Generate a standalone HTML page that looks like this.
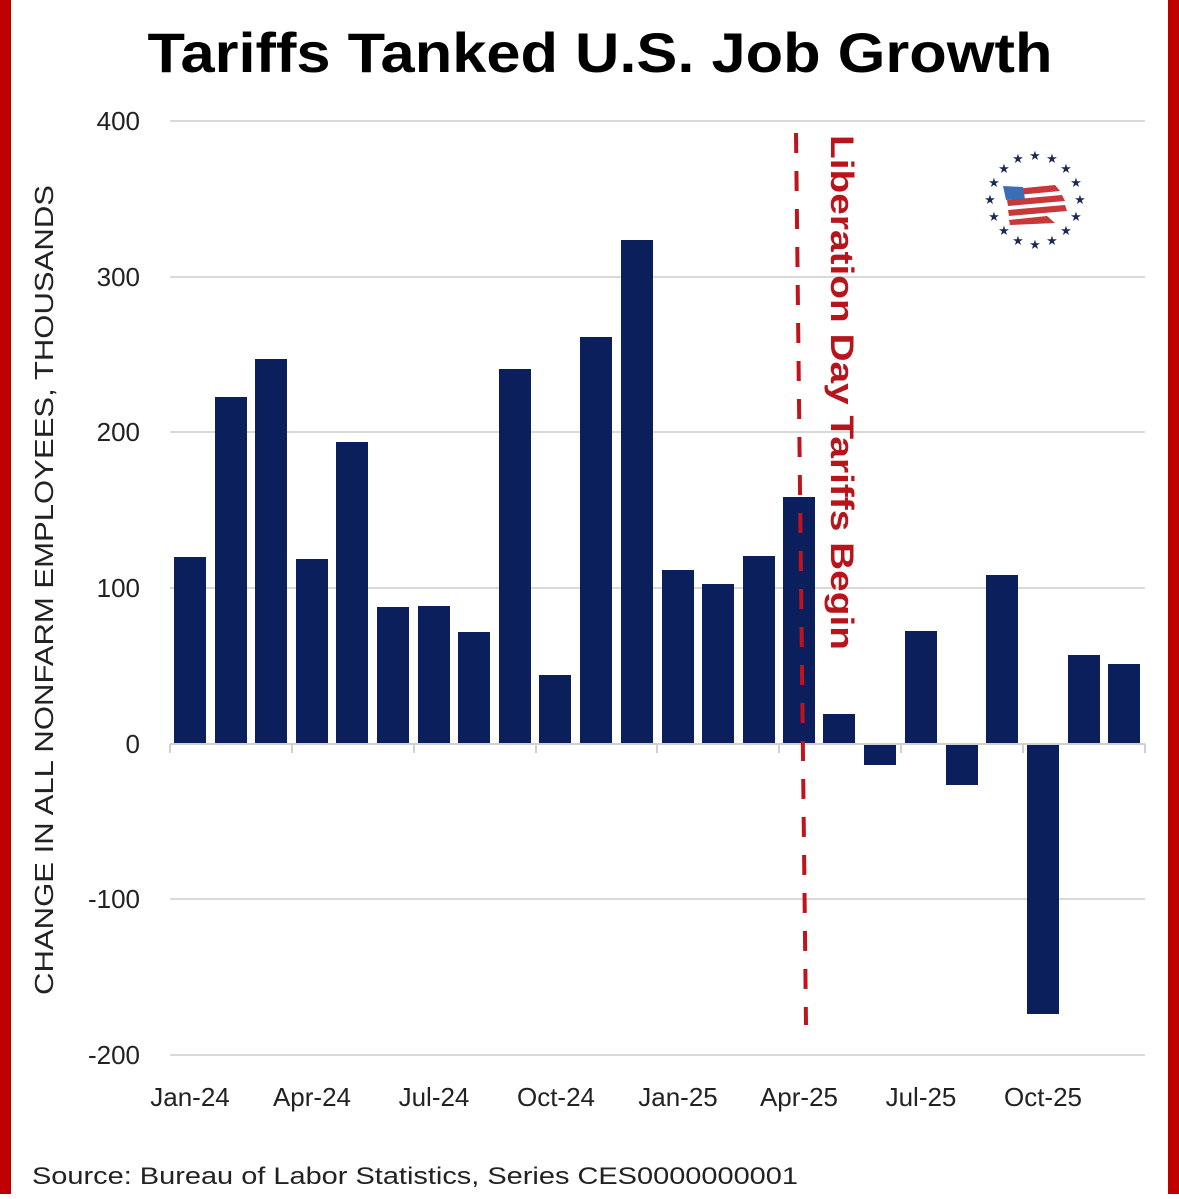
<!DOCTYPE html>
<html><head><meta charset="utf-8"><style>
html,body{margin:0;padding:0;background:#fff;}
</style></head><body>
<svg width="1179" height="1194" viewBox="0 0 1179 1194" xmlns="http://www.w3.org/2000/svg" font-family="Liberation Sans, sans-serif">
<rect x="0" y="0" width="1179" height="1194" fill="#fff"/>
<rect x="0" y="0" width="11" height="1194" fill="#c00000"/>
<rect x="1168" y="0" width="11" height="1194" fill="#c00000"/>
<text x="600" y="72" text-anchor="middle" font-size="56" font-weight="bold" fill="#000" textLength="905" lengthAdjust="spacingAndGlyphs">Tariffs Tanked U.S. Job Growth</text>
<g stroke="#d9d9d9" stroke-width="2">
<line x1="170" y1="121" x2="1145" y2="121"/>
<line x1="170" y1="277" x2="1145" y2="277"/>
<line x1="170" y1="432" x2="1145" y2="432"/>
<line x1="170" y1="588" x2="1145" y2="588"/>
<line x1="170" y1="899" x2="1145" y2="899"/>
<line x1="170" y1="1055" x2="1145" y2="1055"/>
</g>
<g font-size="26" fill="#222" text-anchor="end">
<text x="140" y="130">400</text>
<text x="140" y="286">300</text>
<text x="140" y="441">200</text>
<text x="140" y="597">100</text>
<text x="140" y="753">0</text>
<text x="140" y="908">-100</text>
<text x="140" y="1064">-200</text>
</g>
<text transform="translate(53,590) rotate(-90)" text-anchor="middle" font-size="26" fill="#222" textLength="810" lengthAdjust="spacingAndGlyphs">CHANGE IN ALL NONFARM EMPLOYEES, THOUSANDS</text>
<g fill="#0a1f5c">
<rect x="174" y="557" width="32" height="187"/>
<rect x="215" y="397" width="32" height="347"/>
<rect x="255" y="359" width="32" height="385"/>
<rect x="296" y="559" width="32" height="185"/>
<rect x="336" y="442" width="32" height="302"/>
<rect x="377" y="607" width="32" height="137"/>
<rect x="418" y="606" width="32" height="138"/>
<rect x="458" y="632" width="32" height="112"/>
<rect x="499" y="369" width="32" height="375"/>
<rect x="539" y="675" width="32" height="69"/>
<rect x="580" y="337" width="32" height="407"/>
<rect x="621" y="240" width="32" height="504"/>
<rect x="662" y="570" width="32" height="174"/>
<rect x="702" y="584" width="32" height="160"/>
<rect x="743" y="556" width="32" height="188"/>
<rect x="783" y="497" width="32" height="247"/>
<rect x="823" y="714" width="32" height="30"/>
<rect x="864" y="744" width="32" height="21"/>
<rect x="905" y="631" width="32" height="113"/>
<rect x="946" y="744" width="32" height="41"/>
<rect x="986" y="575" width="32" height="169"/>
<rect x="1027" y="744" width="32" height="270"/>
<rect x="1068" y="655" width="32" height="89"/>
<rect x="1108" y="664" width="32" height="80"/>
</g>
<g stroke="#d0d0d0" stroke-width="2">
<line x1="170" y1="744" x2="1145" y2="744"/>
<line x1="170" y1="744" x2="170" y2="753"/>
<line x1="292" y1="744" x2="292" y2="753"/>
<line x1="414" y1="744" x2="414" y2="753"/>
<line x1="536" y1="744" x2="536" y2="753"/>
<line x1="657" y1="744" x2="657" y2="753"/>
<line x1="779" y1="744" x2="779" y2="753"/>
<line x1="901" y1="744" x2="901" y2="753"/>
<line x1="1023" y1="744" x2="1023" y2="753"/>
<line x1="1145" y1="744" x2="1145" y2="753"/>
</g>
<g font-size="26" fill="#222" text-anchor="middle">
<text x="190" y="1106">Jan-24</text>
<text x="312" y="1106">Apr-24</text>
<text x="434" y="1106">Jul-24</text>
<text x="556" y="1106">Oct-24</text>
<text x="678" y="1106">Jan-25</text>
<text x="799" y="1106">Apr-25</text>
<text x="921" y="1106">Jul-25</text>
<text x="1043" y="1106">Oct-25</text>
</g>
<line x1="796" y1="133" x2="806" y2="1025" stroke="#c0141c" stroke-width="4" stroke-dasharray="20,18"/>
<text transform="translate(831,135) rotate(90)" font-size="32" font-weight="bold" fill="#b8141c" textLength="515" lengthAdjust="spacingAndGlyphs">Liberation Day Tariffs Begin</text>
<g transform="translate(1035,203)">
<g fill="#1c2a55" font-size="13" text-anchor="middle">
<text x="0" y="-43">★</text><text x="17" y="-40">★</text><text x="31" y="-30">★</text><text x="41" y="-16">★</text><text x="45" y="1">★</text><text x="41" y="18">★</text><text x="31" y="32">★</text><text x="17" y="42">★</text><text x="0" y="46">★</text><text x="-17" y="42">★</text><text x="-31" y="32">★</text><text x="-41" y="18">★</text><text x="-45" y="1">★</text><text x="-41" y="-16">★</text><text x="-31" y="-30">★</text><text x="-17" y="-40">★</text>
</g>
<g fill="#c8373a">
<path d="M-30,-13 L20,-18 L25,-12 L-28,-7 Z"/>
<path d="M-28,-3 L27,-8 L30,-2 L-27,3 Z"/>
<path d="M-27,7 L30,2 L32,8 L-26,13 Z"/>
<path d="M-26,17 L12,13 L20,20 L-25,22 Z"/>
</g>
<path d="M-32,-17 L-12,-16 L-10,-4 L-29,-3 Z" fill="#3d6cb5"/>
</g>
<text x="32" y="1184" font-size="24" fill="#222" textLength="766" lengthAdjust="spacingAndGlyphs">Source: Bureau of Labor Statistics, Series CES0000000001</text>
</svg>
</body></html>
